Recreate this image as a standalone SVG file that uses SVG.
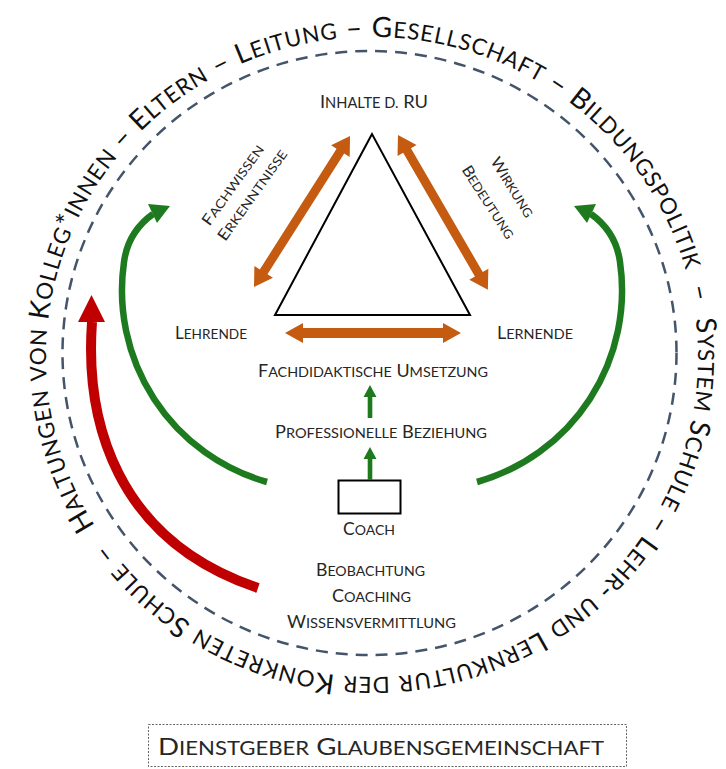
<svg xmlns="http://www.w3.org/2000/svg" xmlns:xlink="http://www.w3.org/1999/xlink" width="726" height="769" viewBox="0 0 726 769">
<style>
.lbl{font-family:Lato,"Open Sans","Liberation Sans",sans-serif;fill:#262626;text-anchor:middle}
.ring{font-family:Lato,"Open Sans","Liberation Sans",sans-serif;fill:#111;font-size:28px}
.s{font-size:0.8em}
.orange{fill:#C55A11}
.green{fill:#1E7A1E}
.gline{fill:none;stroke:#1E7A1E;stroke-width:6.5}
</style>
<defs>
<path id="ringPath" d="M101.73,535.94 A326,320 0 1 1 642.27,178.06 A326,320 0 1 1 101.73,535.94"/>
<polygon id="dbl179" points="0,0 18,-11 18,-4.5 161,-4.5 161,-11 179,0 161,11 161,4.5 18,4.5 18,11"/>
</defs>
<rect width="726" height="769" fill="#fff"/>

<g id="outer-ring">
<ellipse cx="369.5" cy="353" rx="307" ry="302" fill="none" stroke="#44546A" stroke-width="2.5" stroke-dasharray="12 8"/>
<text class="ring"><textPath xlink:href="#ringPath" href="#ringPath" startOffset="12" textLength="2008" lengthAdjust="spacing">H<tspan class="s">ALTUNGEN</tspan> <tspan class="s">VON</tspan> K<tspan class="s">OLLEG</tspan>*<tspan class="s">INNEN</tspan> – E<tspan class="s">LTERN</tspan> – L<tspan class="s">EITUNG</tspan> – G<tspan class="s">ESELLSCHAFT</tspan> – B<tspan class="s">ILDUNGSPOLITIK</tspan>&#160; –&#160; S<tspan class="s">YSTEM</tspan> S<tspan class="s">CHULE</tspan> – L<tspan class="s">EHR</tspan>- <tspan class="s">UND</tspan> L<tspan class="s">ERNKULTUR</tspan> <tspan class="s">DER</tspan> K<tspan class="s">ONKRETEN</tspan> S<tspan class="s">CHULE</tspan> –</textPath></text>
</g>

<g id="triangle">
<polygon points="372,134 275,315 470,315" fill="#fff" stroke="#000" stroke-width="2"/>
</g>

<g id="inhalte"><text class="lbl" x="374" y="108" font-size="18" textLength="108" lengthAdjust="spacingAndGlyphs">I<tspan class="s">NHALTE D.</tspan> RU</text></g>
<g id="lehrende"><text class="lbl" x="211" y="339" font-size="16.5" textLength="72" lengthAdjust="spacingAndGlyphs">L<tspan class="s">EHRENDE</tspan></text></g>
<g id="lernende"><text class="lbl" x="535" y="339" font-size="16.5" textLength="76" lengthAdjust="spacingAndGlyphs">L<tspan class="s">ERNENDE</tspan></text></g>
<g id="fachwissen">
<text class="lbl" font-size="15.5" transform="translate(237,188) rotate(-54.5)" textLength="95" lengthAdjust="spacingAndGlyphs">F<tspan class="s">ACHWISSEN</tspan></text>
<text class="lbl" font-size="15.5" transform="translate(256.5,198) rotate(-54.5)" textLength="108" lengthAdjust="spacingAndGlyphs">E<tspan class="s">RKENNTNISSE</tspan></text>
</g>
<g id="wirkung">
<text class="lbl" font-size="15.5" transform="translate(508,190) rotate(58)" textLength="68" lengthAdjust="spacingAndGlyphs">W<tspan class="s">IRKUNG</tspan></text>
<text class="lbl" font-size="15.5" transform="translate(484,205) rotate(57)" textLength="84" lengthAdjust="spacingAndGlyphs">B<tspan class="s">EDEUTUNG</tspan></text>
</g>
<g id="umsetzung"><text class="lbl" x="373" y="377" font-size="16.5" textLength="230" lengthAdjust="spacingAndGlyphs">F<tspan class="s">ACHDIDAKTISCHE</tspan> U<tspan class="s">MSETZUNG</tspan></text></g>
<g id="beziehung"><text class="lbl" x="381" y="438" font-size="17" textLength="212" lengthAdjust="spacingAndGlyphs">P<tspan class="s">ROFESSIONELLE</tspan> B<tspan class="s">EZIEHUNG</tspan></text></g>
<g id="coach">
<rect x="338.5" y="480.5" width="62" height="33" fill="#fff" stroke="#000" stroke-width="2"/>
<text class="lbl" x="369" y="535" font-size="16.5" textLength="52" lengthAdjust="spacingAndGlyphs">C<tspan class="s">OACH</tspan></text>
</g>
<g id="methoden">
<text class="lbl" x="370.5" y="576" font-size="16.5" textLength="109" lengthAdjust="spacingAndGlyphs">B<tspan class="s">EOBACHTUNG</tspan></text>
<text class="lbl" x="371.5" y="602" font-size="16.5" textLength="79" lengthAdjust="spacingAndGlyphs">C<tspan class="s">OACHING</tspan></text>
<text class="lbl" x="371.5" y="628" font-size="16.5" textLength="169" lengthAdjust="spacingAndGlyphs">W<tspan class="s">ISSENSVERMITTLUNG</tspan></text>
</g>
<g id="dienstgeber">
<rect x="148.5" y="724.5" width="478" height="42" fill="none" stroke="#666" stroke-width="1" stroke-dasharray="2 1.5"/>
<text class="lbl" x="381" y="755" font-size="24" textLength="446" lengthAdjust="spacingAndGlyphs">D<tspan class="s">IENSTGEBER</tspan> G<tspan class="s">LAUBENSGEMEINSCHAFT</tspan></text>
</g>

<g id="connectors">
<use href="#dbl179" xlink:href="#dbl179" class="orange" transform="translate(254,287) rotate(-57.55)"/>
<use href="#dbl179" xlink:href="#dbl179" class="orange" transform="translate(398,135) rotate(59.86)"/>
<polygon class="orange" points="285,333 303,323 303,328 443,328 443,323 461,333 443,343 443,338 303,338 303,343"/>
<polygon class="green" points="370,385 376.5,397 372.3,397 372.3,418 367.7,418 367.7,397 363.5,397"/>
<polygon class="green" points="370,447 376.5,459 372.3,459 372.3,480 367.7,480 367.7,459 363.5,459"/>
<path class="gline" d="M267,482 A199,199 0 0 1 124,262 Q128,232 153,214"/>
<polygon class="green" points="170,206 148,204 157,223"/>
<path class="gline" d="M477,482 A199,199 0 0 0 620,262 Q616,232 591,214"/>
<polygon class="green" points="574,206 596,204 587,223"/>
<path d="M258,588 C115,540 85,420 92,322" fill="none" stroke="#C00000" stroke-width="10"/>
<polygon points="91.5,295 105,322 78,322" fill="#C00000"/>
</g>
</svg>
